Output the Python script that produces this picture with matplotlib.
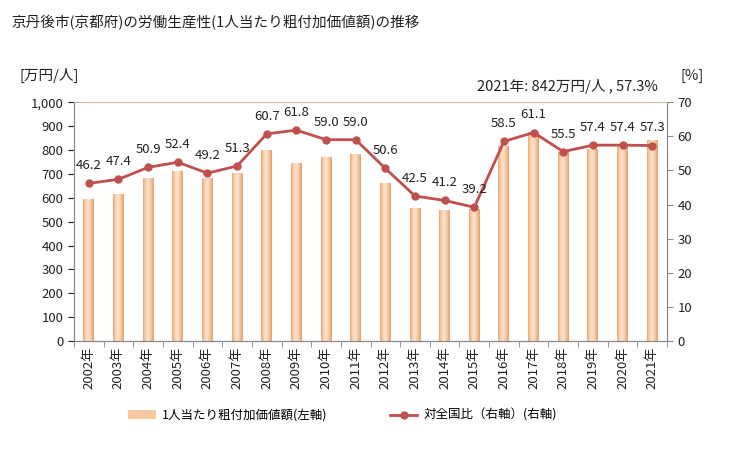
import numpy as np
import matplotlib.pyplot as plt
from matplotlib.colors import LinearSegmentedColormap
from matplotlib.lines import Line2D
from matplotlib.patches import Patch

plt.rcParams['font.family'] = ['Noto Sans CJK JP', 'DejaVu Sans']

years = [f"{y}年" for y in range(2002, 2022)]
productivity = [594, 614, 682, 711, 682, 703, 799, 745, 770, 782,
                661, 555, 548, 552, 816, 874, 790, 806, 813, 842]
ratio = [46.2, 47.4, 50.9, 52.4, 49.2, 51.3, 60.7, 61.8, 59.0, 59.0,
         50.6, 42.5, 41.2, 39.2, 58.5, 61.1, 55.5, 57.4, 57.4, 57.3]

title = "京丹後市(京都府)の労働生産性(1人当たり粗付加価値額)の推移"
note = "2021年: 842万円/人 , 57.3%"

line_color = "#C0504D"
bar_cmap = LinearSegmentedColormap.from_list(
    "peach", ["#E8A878", "#FBD3B0", "#FDE3CC", "#F6C49A", "#E2A070"])

fig = plt.figure(figsize=(7.29, 4.5), dpi=100)
ax = fig.add_axes([0.1015, 0.242, 0.8135, 0.531])
ax2 = ax.twinx()

x = np.arange(len(years))
width = 0.37
bars = ax.bar(x, productivity, width=width, color="none", edgecolor="none", zorder=2)
grad = np.linspace(0, 1, 64).reshape(1, -1)
for b in bars:
    x0, y0 = b.get_x(), b.get_y()
    im = ax.imshow(grad, cmap=bar_cmap, aspect="auto", zorder=2,
                   extent=[x0, x0 + b.get_width(), y0, y0 + b.get_height()])
    im.set_clip_path(b)

ax.set_xlim(-0.5, len(years) - 0.5)
ax.set_ylim(0, 1000)
ax.set_yticks(range(0, 1001, 100))
ax.set_yticklabels([f"{v:,}" for v in range(0, 1001, 100)])
ax.set_xticks(x)
ax.set_xticklabels(years, rotation=90)
ax.set_xticks(np.arange(-0.5, len(years), 1), minor=True)
ax.tick_params(axis="x", which="major", length=0, pad=4)
ax.tick_params(axis="x", which="minor", length=4, color="#888888")
ax.tick_params(axis="y", length=4, color="#888888")
ax.tick_params(labelsize=9.5, colors="#222222")

ax2.plot(x, ratio, color=line_color, linewidth=2, marker="o", markersize=5, zorder=3)
for xi, r in zip(x, ratio):
    ax2.annotate(f"{r:.1f}", (xi, r), xytext=(0, 8), textcoords="offset points",
                 ha="center", va="bottom", fontsize=9.5, color="#222222")
ax2.set_ylim(0, 70)
ax2.set_yticks(range(0, 71, 10))
ax2.tick_params(axis="y", length=4, color="#888888", labelsize=9.5, colors="#222222")

for a in (ax, ax2):
    a.spines["top"].set_color("#C8BCA8")
    a.spines["left"].set_color("#888888")
    a.spines["right"].set_color("#888888")
    a.spines["bottom"].set_color("#888888")

fig.text(0.016, 0.95, title, fontsize=10.5, ha="left", va="center", color="#222222")
fig.text(0.027, 0.832, "[万円/人]", fontsize=10.5, ha="left", va="center", color="#222222")
fig.text(0.965, 0.832, "[%]", fontsize=10.5, ha="right", va="center", color="#222222")
fig.text(0.902, 0.808, note, fontsize=10.5, ha="right", va="center", color="#222222")

handles = [Patch(facecolor="#F8C8A0", edgecolor="none"),
           Line2D([0], [0], color=line_color, linewidth=2, marker="o", markersize=5)]
labels = ["1人当たり粗付加価値額(左軸)", "対全国比（右軸）(右軸)"]
fig.legend(handles, labels, loc="center", bbox_to_anchor=(0.47, 0.077), ncol=2,
           frameon=False, fontsize=9, columnspacing=5, handlelength=2.2,
           handletextpad=0.5)

fig.savefig("out.png", dpi=100)
